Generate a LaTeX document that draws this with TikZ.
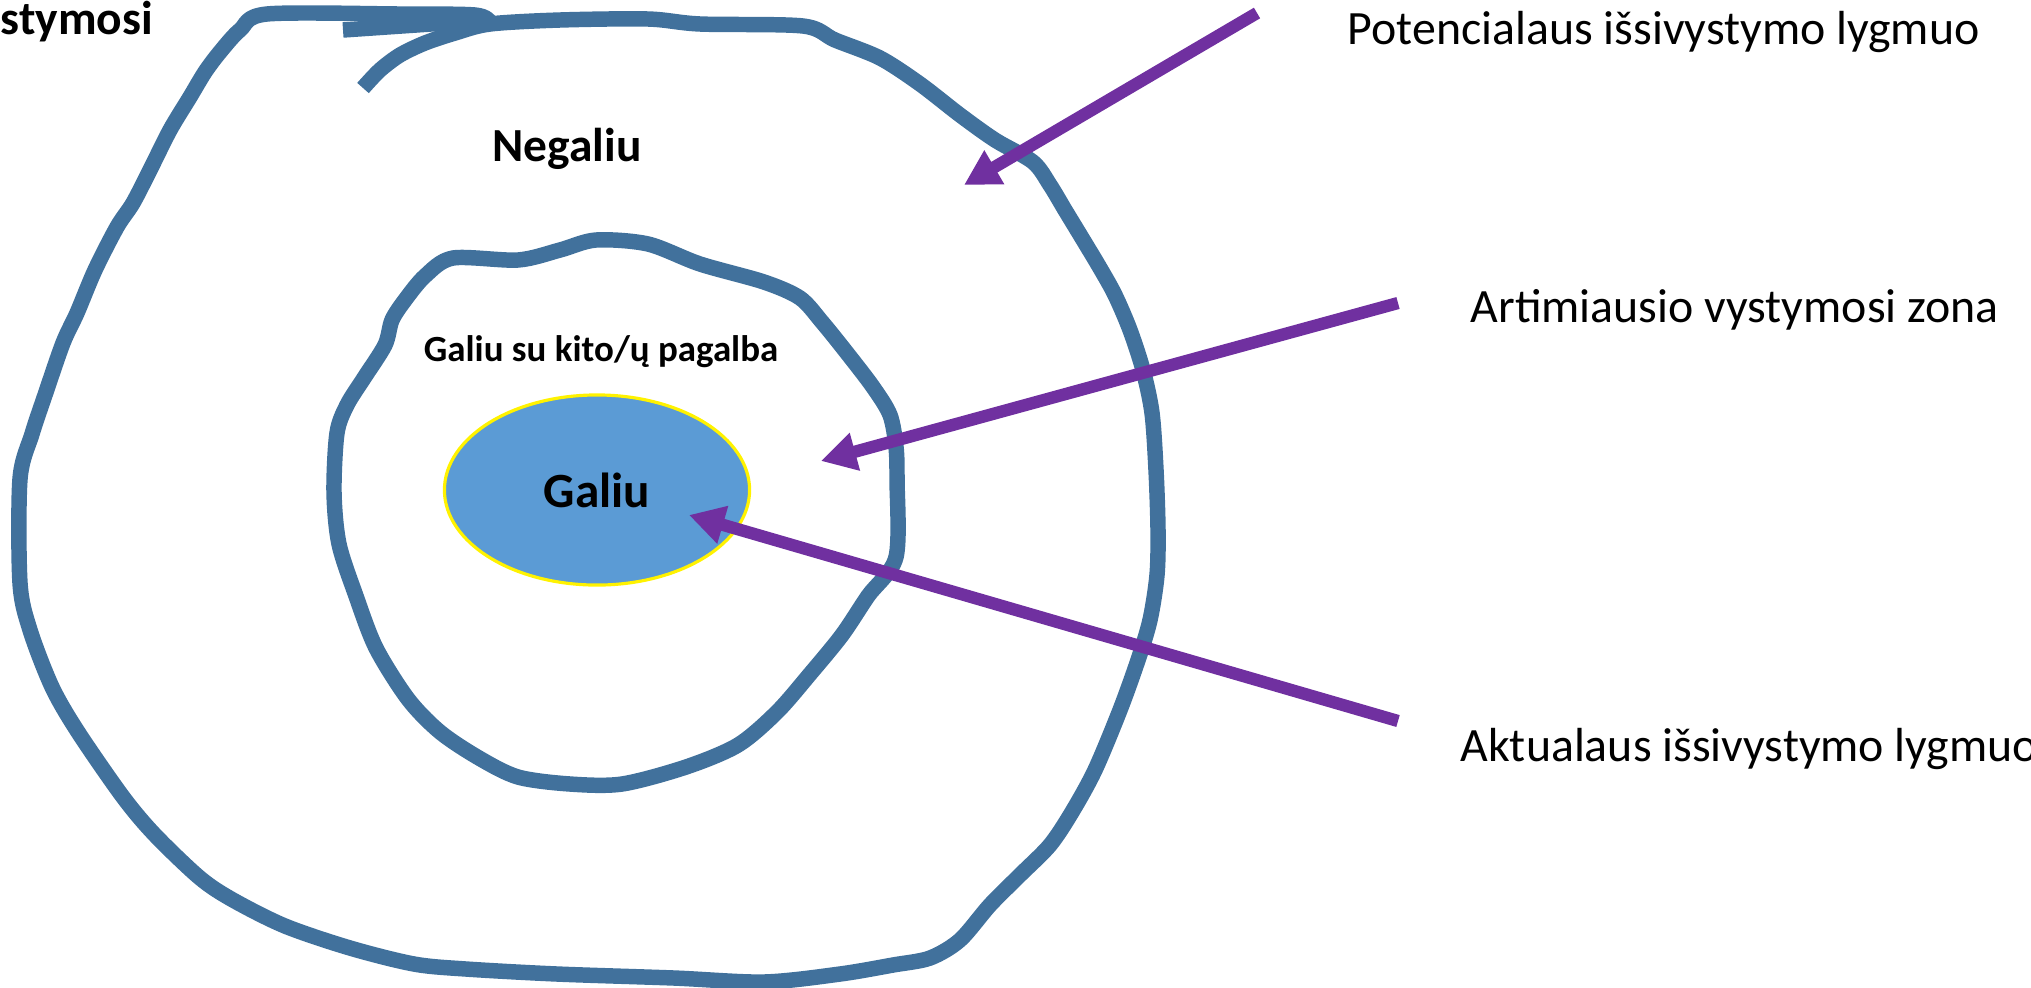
\documentclass[tikz,border=0pt]{standalone}
\usepackage{fontspec}
\setmainfont{Carlito}
\usetikzlibrary{positioning}
\usetikzlibrary{arrows.meta}
\usetikzlibrary{shapes.geometric}
\definecolor{zoneblue}{RGB}{65,113,156}
\definecolor{arrowpurple}{RGB}{112,48,160}
\definecolor{corefill}{RGB}{91,155,213}
\tikzset{
	zone/.style = {draw=zoneblue, line width=4.4pt, line join=round},
	pointer/.style = {draw=arrowpurple, line width=3.5pt, -{Triangle[length=10pt,width=10.5pt]}},
	core/.style = {ellipse, draw=yellow, line width=0.9pt, fill=corefill, minimum width=3.05cm, minimum height=1.9cm, font=\bfseries\fontsize{14}{16}\selectfont},
	big/.style = {font=\bfseries\fontsize{13.5}{16}\selectfont},
	small/.style = {font=\bfseries\fontsize{10.5}{12}\selectfont},
	side/.style = {anchor=west, inner sep=0pt, font=\fontsize{13.6}{16}\selectfont}
}

\begin{document}
\begin{tikzpicture}[x=0.01cm, y=-0.01cm]
	\useasboundingbox (0,0) rectangle (2031,987);
%	outer loop
	\draw[zone] plot[smooth, tension=0.5] coordinates {(363,88) (380,70) (400,55) (425,43) (455,33) (490,24) (560,20) (648,19) (700,24) (803,26) (835,40) (880,58) (920,84) (960,115) (995,140) (1033,162) (1050,185) (1065,210) (1082,238) (1100,268) (1115,295) (1130,330) (1143,370) (1152,413) (1156,470) (1158,530) (1157,575) (1150,620) (1138,660) (1120,710) (1095,770) (1072,812) (1050,845) (1020,875) (990,905) (960,940) (930,958) (893,965) (840,974) (764,982) (674,978) (557,974) (466,969) (414,964) (350,948) (285,926) (233,900) (200,878) (155,835) (123,797) (78,732) (52,687) (30,630) (20,583) (20,479) (32,434) (45,395) (63,343) (77,313) (95,270) (117,227) (133,203) (150,170) (170,130) (190,97) (205,72) (220,52) (240,30) (267,14) (400,14) (475,15) (490,22)};
	\draw[zone] (343,30) -- (475,21);
%	inner loop
	\draw[zone] plot[smooth cycle, tension=0.5] coordinates {(453,258) (518,260) (560,250) (596,240) (648,244) (700,264) (764,282) (800,298) (822,322) (847,353) (873,387) (890,415) (896,447) (897,480) (896,557) (868,596) (842,635) (810,674) (777,712) (738,745) (686,767) (622,784) (570,784) (518,777) (479,758) (440,732) (408,699) (376,648) (356,596) (339,544) (334,492) (337,433) (347,405) (364,378) (385,345) (392,320) (405,300) (425,276)};

	\node[core] (galiu) at (597,490) {Galiu};
	\node[small] (pagalba) at (601,352) {Galiu su kito/ų pagalba};
	\node[big] (negaliu) at (567,149) {Negaliu};
	\node[big, anchor=base west, inner sep=0pt] (vystymosi) at (0,34) {stymosi};

	\node[side] (potencialaus) at (1347,32) {Potencialaus išsivystymo lygmuo};
	\node[side] (artimiausio) at (1470,310) {Artimiausio vystymosi zona};
	\node[side] (aktualaus) at (1460,749) {Aktualaus išsivystymo lygmuo};

	\coordinate (pot-tail) at (1257,13);
	\coordinate (pot-head) at (964,185);
	\coordinate (art-tail) at (1398,303);
	\coordinate (art-head) at (821,461);
	\coordinate (akt-tail) at (1398,721);
	\coordinate (akt-head) at (689,515);

	\draw[pointer] (pot-tail) -- (pot-head);
	\draw[pointer] (art-tail) -- (art-head);
	\draw[pointer] (akt-tail) -- (akt-head);
\end{tikzpicture}
\end{document}
